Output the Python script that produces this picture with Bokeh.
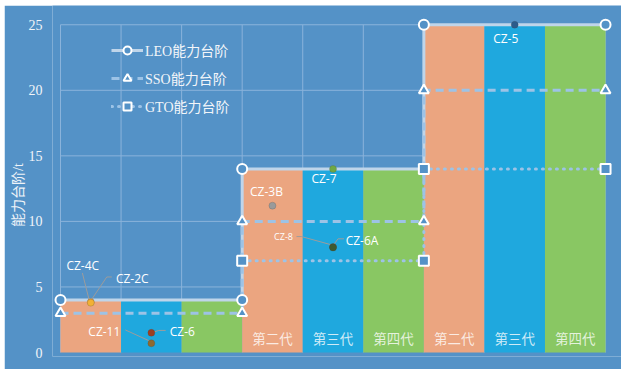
import math
from bokeh.plotting import figure
from bokeh.models import Range1d, FixedTicker, Legend, LegendItem
from bokeh.embed import file_html
from bokeh.resources import INLINE
from bokeh.core.properties import value

# ---------------- data ----------------
bar_labels = ["", "", "", "第二代", "第三代", "第四代", "第二代", "第三代", "第四代"]
bar_heights = [4, 4, 4, 14, 14, 14, 25, 25, 25]

step_x = [0, 3, 3, 6, 6, 9]
leo_steps = [4, 4, 14, 14, 25, 25]
sso_steps = [3, 3, 10, 10, 20, 20]
gto_x = [3, 6, 6, 9]
gto_steps = [7, 7, 14, 14]

rockets = ["CZ-4C", "CZ-2C", "CZ-11", "CZ-6", "CZ-3B", "CZ-7", "CZ-8", "CZ-6A", "CZ-5"]
rocket_x = [0.5, 0.5, 1.5, 1.5, 3.5, 4.5, 4.5, 4.5, 7.5]
rocket_y = [3.85, 3.8, 0.7, 1.5, 11.2, 14.0, 8.05, 8.0, 25.0]

y_ticks = [0, 5, 10, 15, 20, 25]
y_title = "能力台阶/t"

# ---------------- styles ----------------
BG = "#5492C7"
bar_palette = ["#EBA580", "#1FA8DE", "#89C763"]
rocket_colors = ["#EE9A3A", "#F2B134", "#8E6A30", "#9E3E22", "#9A9A9A",
                 "#6FA843", "#5A4A2C", "#3D5A2F", "#2B5B8B"]
# label offsets (px, relative to dot; dy downward) and font sizes
label_off = [(-8, -37), (41.5, -24.4), (-47, -12), (31, -1), (-6, -14),
             (-9, 9.5), (-49.5, -10), (29, -7), (-9, 14)]
label_size = ["12px"] * 6 + ["9px", "12px", "12px"]
# leader polylines (px offsets relative to dot), None for no leader
leaders = [
    [(-8.4, -29), (-1.7, -2.4)],
    [(21, -25.7), (16, -25.7), (0.3, -2.4)],
    [(-26, -13.4), (-1, -2)],
    [(14.3, -2.4), (7.3, -2.4), (2.3, -0.7)],
    None,
    None,
    [(-36.5, -10.4), (-31.5, -10.4), (-1.5, -2.1)],
    [(11, -8.8), (5, -8.8), (0, -2)],
    None,
]

FIG_W, FIG_H = 617, 364
BL, BR, BT, BB = 48, 0, 0, 13
SX = 60.56   # px per x unit
SY = 13.11   # px per y unit
x0 = -8 / SX
x1 = x0 + (FIG_W - BL - BR) / SX
y0 = -4 / SY
y1 = y0 + (FIG_H - BT - BB) / SY

p = figure(width=FIG_W, height=FIG_H, output_backend="svg", toolbar_location=None,
           x_range=Range1d(x0, x1), y_range=Range1d(y0, y1),
           min_border_left=BL, min_border_right=BR, min_border_top=BT, min_border_bottom=BB)
p.margin = (5, 0, 3, 4)
p.background_fill_color = BG
p.border_fill_color = BG
p.outline_line_color = None
p.grid.visible = False
p.xaxis.visible = False

ax = p.yaxis[0]
ax.ticker = FixedTicker(ticks=y_ticks)
ax.axis_line_color = None
ax.major_tick_line_color = None
ax.minor_tick_line_color = None
ax.major_label_standoff = 4
ax.major_label_text_font = "Liberation Serif"
ax.major_label_text_font_size = "14px"
ax.major_label_text_color = "#F2F5F9"
# title centred a little below the frame centre (non-breaking padding at its top end)
ax.axis_label = y_title + "\u00a0" * 8
ax.axis_label_standoff = 0
ax.axis_label_text_font = "Liberation Serif, Noto Sans CJK SC"
ax.axis_label_text_font_size = "14px"
ax.axis_label_text_font_style = "normal"
ax.axis_label_text_color = "#EEF3F8"

# grid (manual, spanning the category block only)
n = len(bar_heights)
p.segment(x0=[0] * len(y_ticks[1:]), x1=[n] * len(y_ticks[1:]), y0=y_ticks[1:], y1=y_ticks[1:],
          line_color="#8AB3DB", line_width=1)
p.segment(x0=list(range(n + 1)), x1=list(range(n + 1)), y0=[0] * (n + 1), y1=[y_ticks[-1]] * (n + 1),
          line_color="#8AB3DB", line_width=1)

# bars
bx = [i + 0.5 for i in range(n)]
p.vbar(x=bx, top=bar_heights, bottom=0, width=1,
       fill_color=[bar_palette[i % 3] for i in range(n)], line_color=None)

# generation labels
p.text(x=bx, y=[1.1] * n, text=bar_labels, text_align="center", text_baseline="middle",
       text_font=value("Noto Sans CJK SC"), text_font_size="13.5px", text_color="#FFFFFF", text_alpha=0.78)

# step lines
leo_line = p.line(step_x, leo_steps, line_color="#BFD5EA", line_width=3)
sso_line = p.line(step_x, sso_steps, line_color="#9DC3E6", line_width=3, line_dash="8 5")
gto_line = p.line(gto_x, gto_steps, line_color="#9DC3E6", line_width=3, line_dash="1 6", line_cap="round")

leo_m = p.scatter(step_x, leo_steps, marker="circle", size=10, fill_color=BG, line_color="white", line_width=2)
sso_m = p.scatter(step_x, sso_steps, marker="triangle", size=10, fill_color=BG, line_color="white", line_width=2)
gto_m = p.scatter(gto_x, gto_steps, marker="square", size=10, fill_color=BG, line_color="white", line_width=2)

# leaders
lx, ly = [], []
for rx, ry, ld in zip(rocket_x, rocket_y, leaders):
    if ld is None:
        continue
    lx.append([rx + dx / SX for dx, dy in ld])
    ly.append([ry - dy / SY for dx, dy in ld])
p.multi_line(lx, ly, line_color="#9C9C9C", line_width=1)

# rocket dots
p.scatter(rocket_x, rocket_y, size=7, fill_color=rocket_colors, line_color="#444444", line_alpha=0.35, line_width=0.6)

# rocket labels
tx = [rx + o[0] / SX for rx, o in zip(rocket_x, label_off)]
ty = [ry - o[1] / SY for ry, o in zip(rocket_y, label_off)]
for i in range(len(rockets)):
    p.text(x=[tx[i]], y=[ty[i]], text=[rockets[i]], text_align="center", text_baseline="middle",
           text_font=value("Open Sans"), text_font_size=label_size[i], text_color="#FFFFFF")

# legend
legend = Legend(items=[
    LegendItem(label="LEO能力台阶", renderers=[leo_line, leo_m]),
    LegendItem(label="SSO能力台阶", renderers=[sso_line, sso_m]),
    LegendItem(label="GTO能力台阶", renderers=[gto_line, gto_m]),
], location=(59, 240))
legend.background_fill_alpha = 0
legend.border_line_color = None
legend.padding = 0
legend.margin = 0
legend.spacing = 8
legend.glyph_width = 32
legend.glyph_height = 20
legend.label_height = 20
legend.label_standoff = 2
legend.label_text_font = "Liberation Serif, Noto Sans CJK SC"
legend.label_text_font_size = "14px"
legend.label_text_color = "#F2F5F9"
p.add_layout(legend, "center")

open("out.html", "w").write(file_html(p, INLINE))
